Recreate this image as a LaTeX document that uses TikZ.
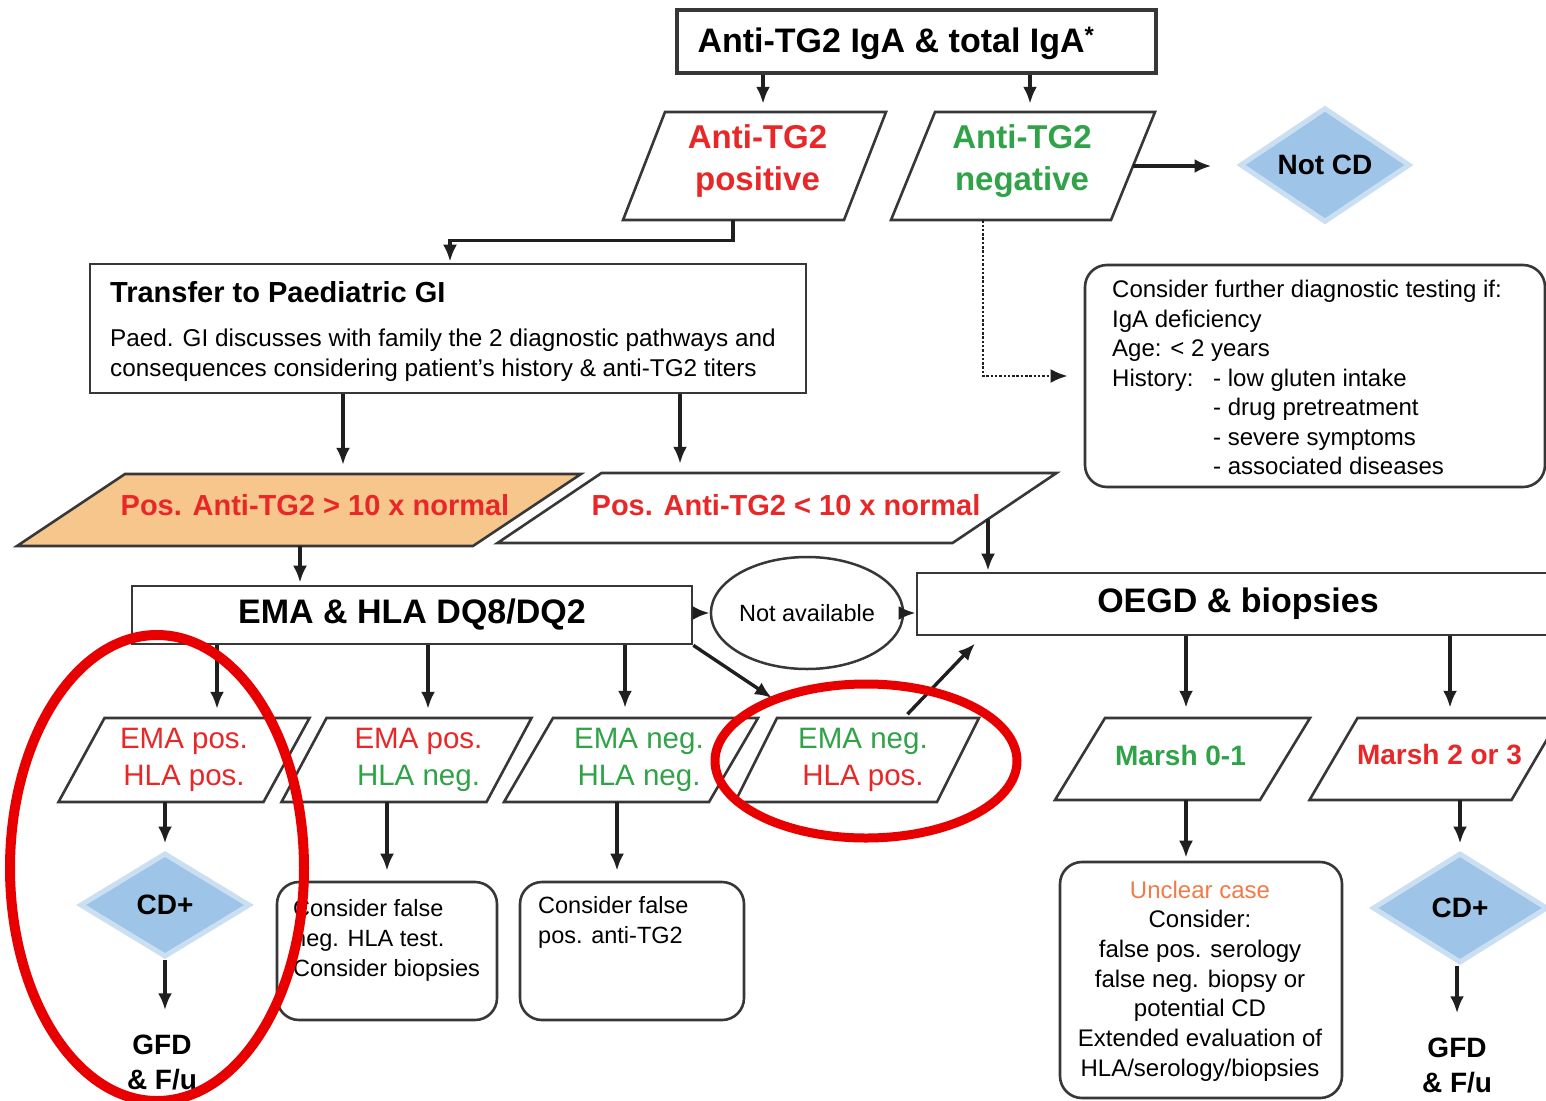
\documentclass[tikz,border=0pt]{standalone}
\usepackage{fontspec}
\setmainfont{Liberation Sans}
\usetikzlibrary{shapes.geometric,arrows.meta}
\definecolor{tred}{RGB}{232,40,40}
\definecolor{tgreen}{RGB}{48,162,72}
\definecolor{borange}{RGB}{246,198,140}
\definecolor{dblue}{RGB}{158,196,232}
\definecolor{uorange}{RGB}{240,122,72}
\definecolor{lc}{RGB}{55,55,55}
\definecolor{annred}{RGB}{232,0,0}
\newcommand{\fz}[2]{\fontsize{#1}{#2}\selectfont}
\newcommand{\pgram}[9]{%
  \path[pg,#7] (#2-#4/2+#6,#3-#5/2) coordinate (#1tl) -- (#2+#4/2+#6,#3-#5/2) coordinate (#1tr) -- (#2+#4/2-#6,#3+#5/2) coordinate (#1br) -- (#2-#4/2-#6,#3+#5/2) coordinate (#1bl) -- cycle;
  \node[minimum width=#4, minimum height=#5, inner sep=0pt] (#1) at (#2,#3) {};
  \node[align=center, inner sep=0pt, #8] (#1t) at (#2,#3) {#9};
}
\begin{document}
\begin{tikzpicture}[x=1pt,y=-1pt,
  box/.style={draw=lc, line width=2.6pt, fill=white, inner sep=0pt},
  rbox/.style={box, rounded corners=22pt},
  pg/.style={draw=lc, line width=2.6pt, fill=white},
  arr/.style={draw=black!88, line width=3.4pt, -{Latex[length=17pt,width=14pt]}},
  dotarr/.style={arr, line width=2.8pt, dash pattern=on 2.5pt off 1.8pt},
  dia/.style={diamond, fill=dblue, draw=dblue!55!white, line width=5pt, inner sep=0pt, font=\bfseries\fz{28}{34}},
  ann/.style={draw=annred, line width=10pt},
  redt/.style={text=tred},
  greent/.style={text=tgreen},
]
\fill[white] (0,0) rectangle (1546,1100);
\useasboundingbox (0,0) rectangle (1546,1100);
\clip (0,0) rectangle (1546,1100);

\foreach \c in {763,1030,733,450,983,343,680,300,217,428,625,904,982,617,1186,1450,1460,1457}
  \coordinate (x\c) at (\c,0);

% top
\node[box, line width=3.5pt, minimum width=479, minimum height=63] (top) at (916.5,41.5) {};
\node[font=\bfseries\fz{34}{40}, inner sep=0pt] (toptxt) at (896,43) {Anti-TG2 IgA \& total IgA\textsuperscript{*}};

\pgram{pos}{754.5}{166}{221}{108}{21}{}{font={\bfseries\fz{33}{42}}, redt, shift={(3,-5)}}{Anti-TG2\\positive}
\pgram{neg}{1023}{166}{220}{108}{22}{}{font={\bfseries\fz{33}{42}}, greent, shift={(-1,-5)}}{Anti-TG2\\negative}

\node[dia, minimum width=170, minimum height=110] (notcd) at (1325,165) {Not CD};

% transfer box
\node[box, minimum width=716, minimum height=129] (gi) at (448,328.5) {};
\node[anchor=west, inner sep=0pt, font=\bfseries\fz{29}{32}] (gititle) at (110,292) {Transfer to Paediatric GI};
\node[anchor=west, inner sep=0pt, align=left, font=\fz{24.3}{30}] (gibody) at (110,355) {Paed. GI discusses with family the 2 diagnostic pathways and\\consequences considering patient's history \& anti-TG2 titers};

% consider box
\node[rbox, minimum width=460, minimum height=222] (cons) at (1315,376) {};
\node[anchor=west, inner sep=0pt, align=left, font=\fz{24}{29.5}] (constxt) at (1112,377.5) {Consider further diagnostic testing if:\\IgA deficiency\\Age: < 2 years\\\makebox[101pt][l]{History:}- low gluten intake\\\hspace*{101pt}- drug pretreatment\\\hspace*{101pt}- severe symptoms\\\hspace*{101pt}- associated diseases};

% titer parallelograms
\pgram{gt}{299}{510}{456}{72}{54}{fill=borange}{font={\bfseries\fz{29}{34}}, redt, shift={(16,-5)}}{Pos. Anti-TG2 > 10 x normal}
\pgram{lt}{777}{508}{455}{70}{52}{}{font={\bfseries\fz{29}{34}}, redt, shift={(9,-3)}}{Pos. Anti-TG2 < 10 x normal}
\coordinate (lte) at (988,519);

% EMA, not available, OEGD
\node[box, minimum width=560, minimum height=58, font=\bfseries\fz{34}{40}] (ema) at (412,615) {EMA \& HLA DQ8/DQ2};
\node[ellipse, draw=lc, line width=2.5pt, fill=white, minimum width=156, minimum height=112, inner sep=0pt, font=\fz{23.5}{26}] (na) at (807,613) {Not available};
\node[box, minimum width=660, minimum height=62] (oegd) at (1247,604) {};
\node[font=\bfseries\fz{34}{40}, inner sep=0pt] (oegdtxt) at (1238,604) {OEGD \& biopsies};

% EMA result row
\pgram{pa}{184}{760}{205}{84}{23}{}{font={\fz{29.5}{37}}, shift={(0,0)}}{{\color{tred}EMA pos.}\\{\color{tred}HLA pos.}}
\pgram{pb}{406.5}{760}{205}{84}{22.5}{}{font={\fz{29.5}{37}}, shift={(12,0)}}{{\color{tred}EMA pos.}\\{\color{tgreen}HLA neg.}}
\pgram{pc}{631}{760}{205}{84}{24.5}{}{font={\fz{29.5}{37}}, shift={(8,0)}}{{\color{tgreen}EMA neg.}\\{\color{tgreen}HLA neg.}}
\pgram{pd}{857}{760}{202}{84}{21}{}{font={\fz{29.5}{37}}, shift={(6,0)}}{{\color{tgreen}EMA neg.}\\{\color{tred}HLA pos.}}
\coordinate (emaend) at (772,698);

% Marsh row
\pgram{ma}{1182.5}{759}{205}{82}{25}{}{font={\bfseries\fz{28}{34}}, greent, shift={(-2,-4)}}{Marsh 0-1}
\pgram{mb}{1434.5}{759}{202}{82}{24}{}{font={\bfseries\fz{28}{34}}, redt, shift={(5,-4)}}{Marsh 2 or 3}

% bottom
\node[dia, minimum width=170, minimum height=104] (cda) at (165,905) {CD+};
\node[align=center, inner sep=0pt, font=\bfseries\fz{28}{35}] (gfda) at (162,1062) {GFD\\\& F/u};
\node[rbox, minimum width=220, minimum height=138] (boxb) at (387,951) {};
\node[anchor=west, inner sep=0pt, align=left, font=\fz{23.5}{30}] (boxbt) at (293,940) {Consider false\\neg. HLA test.\\Consider biopsies};
\node[rbox, minimum width=224, minimum height=138] (boxc) at (632,951) {};
\node[anchor=west, inner sep=0pt, align=left, font=\fz{23.5}{30}] (boxct) at (538,922) {Consider false\\pos. anti-TG2};
\node[rbox, minimum width=282, minimum height=236] (unc) at (1201,980) {};
\node[align=center, inner sep=0pt, font=\fz{24}{29.7}] (unct) at (1200,981) {{\color{uorange}Unclear case}\\Consider:\\false pos. serology\\false neg. biopsy or\\potential CD\\Extended evaluation of\\HLA/serology/biopsies};
\node[dia, minimum width=175, minimum height=110] (cdb) at (1460,908) {CD+};
\node[align=center, inner sep=0pt, font=\bfseries\fz{28}{35}] (gfdb) at (1457,1065) {GFD\\\& F/u};

% connectors
\draw[arr, shorten >=8pt] (top.south -| x763) -- (pos.north -| x763);
\draw[arr, shorten >=8pt] (top.south -| x1030) -- (neg.north -| x1030);
\draw[arr, shorten >=26pt] (neg.east) -- (neg.east -| notcd.west);
\draw[arr, shorten >=1pt] (pos.south -| x733) -- ++(0,20) -| (gi.north -| x450);
\draw[dotarr, shorten >=16pt] (neg.south -| x983) |- (cons.west);
\draw[arr, shorten >=9pt] (gi.south -| x343) -- (gt.north -| x343);
\draw[arr, shorten >=9pt] (gi.south -| x680) -- (lt.north -| x680);
\draw[arr, shorten >=2pt] (gt.south -| x300) -- (ema.north -| x300);
\draw[arr, shorten >=1pt] (lte) -- (lte |- oegd.north);
\draw[arr] (na.west -| ema.east) -- (na.west);
\draw[arr] (na.east) -- (na.east -| oegd.west);
\draw[arr, shorten >=9pt] (ema.south -| x217) -- (pa.north -| x217);
\draw[arr, shorten >=9pt] (ema.south -| x428) -- (pb.north -| x428);
\draw[arr, shorten >=10pt] (ema.south -| x625) -- (pc.north -| x625);
\draw[arr] (ema.south east) -- (emaend);
\draw[arr, shorten <=5pt, shorten >=10pt] (pd.north -| x904) -- (oegd.south -| x982);
\draw[arr, shorten >=7pt] (pa.south -| cda.north) -- (cda.north);
\draw[arr, shorten >=24pt] (cda.south) -- (cda.south |- gfda.north);
\draw[arr, shorten >=10pt] (pb.south -| boxb.north) -- (boxb.north);
\draw[arr, shorten >=10pt] (pc.south -| x617) -- (boxc.north -| x617);
\draw[arr, shorten >=10pt] (oegd.south -| x1186) -- (ma.north -| x1186);
\draw[arr, shorten >=10pt] (oegd.south -| x1450) -- (mb.north -| x1450);
\draw[arr, shorten >=3pt] (ma.south -| x1186) -- (unc.north -| x1186);
\draw[arr, shorten >=7pt] (mb.south -| x1460) -- (cdb.north -| x1460);
\draw[arr, shorten >=24pt] (cdb.south -| x1457) -- (gfdb.north -| x1457);

% red annotation ellipses
\draw[ann] (157,868) ellipse [x radius=147, y radius=233];
\draw[ann, line width=9pt] (866,761) ellipse [x radius=151, y radius=77];
\end{tikzpicture}
\end{document}
